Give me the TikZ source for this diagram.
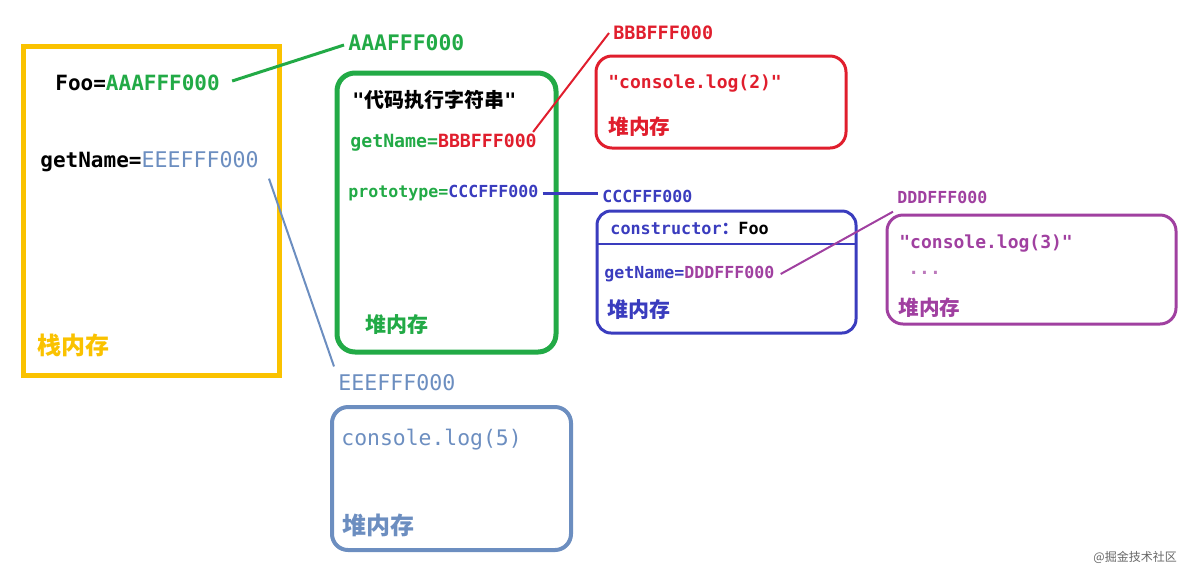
\documentclass[tikz,border=0pt]{standalone}
\usepackage{fontspec}
\setmonofont{DejaVu Sans Mono}
\newfontfamily\cjk{Noto Sans CJK SC}
\definecolor{yel}{RGB}{250,194,0}
\definecolor{grn}{RGB}{34,170,70}
\definecolor{rd}{RGB}{224,30,45}
\definecolor{blu}{RGB}{58,60,190}
\definecolor{pur}{RGB}{160,64,160}
\definecolor{stl}{RGB}{108,142,192}
\newcommand{\fsz}[1]{\fontsize{#1}{#1}\selectfont}
\begin{document}
\begin{tikzpicture}[x=0.5pt,y=-0.5pt,
  t/.style={anchor=west,inner sep=2pt,font=\ttfamily\bfseries},
  cj/.style={anchor=west,inner sep=2pt,font=\cjk\bfseries},
  link/.style={line width=1pt}]
\useasboundingbox (0,0) rectangle (1194,575);

% boxes
\draw[yel,line width=2.5pt] (23,46) rectangle (279,375);
\draw[grn,line width=2.5pt,rounded corners=9pt] (337,73) rectangle (556,352);
\draw[rd,line width=1.5pt,rounded corners=8pt] (596,56) rectangle (846,148);
\draw[blu,line width=1.5pt,rounded corners=7pt] (597,211) rectangle (856,333);
\draw[blu,line width=1.2pt] (597,244) -- (856,244);
\draw[pur,line width=1.5pt,rounded corners=8pt] (887,215) rectangle (1176,324);
\draw[stl,line width=2pt,rounded corners=8pt] (332,407) rectangle (571,550);

% stack
\node[t,font=\ttfamily\bfseries\fsz{10.5pt}] (foo) at (51,83) {Foo=\textcolor{grn}{AAAFFF000}};
\node[t,font=\ttfamily\bfseries\fsz{10.5pt}] (gn) at (36,162) {getName=\textcolor{stl}{\mdseries\fsz{10.8pt}EEEFFF000}};
\node[cj,text=yel,font=\cjk\bfseries\fsz{12pt}] (stk) at (33,345) {栈内存};

% green heap
\node[t,font=\ttfamily\bfseries\fsz{10.7pt},text=grn] (aaa) at (344,43) {AAAFFF000};
\node[anchor=west,inner sep=2pt,font=\bfseries\fsz{10pt}] (code) at (348,100) {\ttfamily"\cjk 代码执行字符串\ttfamily"};
\node[t,font=\ttfamily\bfseries\fsz{9.1pt},text=grn] (gnb) at (346,143) {getName=\textcolor{rd}{BBBFFF000}};
\node[t,font=\ttfamily\bfseries\fsz{8.3pt},text=grn] (pro) at (344,193) {prototype=\textcolor{blu}{CCCFFF000}};
\node[cj,text=grn,font=\cjk\bfseries\fsz{10.5pt}] (gheap) at (361,325) {堆内存};

% red heap
\node[t,font=\ttfamily\bfseries\fsz{9.2pt},text=rd] (bbb) at (609,33) {BBBFFF000};
\node[t,font=\ttfamily\bfseries\fsz{9pt},text=rd] (c2) at (604,84) {"console.log(2)"};
\node[cj,text=rd,font=\cjk\bfseries\fsz{10.3pt}] (rheap) at (604,127) {堆内存};

% blue heap
\node[t,font=\ttfamily\bfseries\fsz{8.3pt},text=blu] (ccc) at (598,196) {CCCFFF000};
\node[t,font=\ttfamily\bfseries\fsz{8.4pt},text=blu] (ctor) at (606,228) {constructor{\cjk ：}\textcolor{black}{Foo}};
\node[t,font=\ttfamily\bfseries\fsz{8.3pt},text=blu] (gnd) at (600,274) {getName=\textcolor{pur}{DDDFFF000}};
\node[cj,text=blu,font=\cjk\bfseries\fsz{10.5pt}] (bheap) at (603,310) {堆内存};

% purple heap
\node[t,font=\ttfamily\bfseries\fsz{8.3pt},text=pur] (ddd) at (893,197) {DDDFFF000};
\node[t,font=\ttfamily\bfseries\fsz{9pt},text=pur] (c3) at (895,244) {"console.log(3)"};
\node[t,font=\ttfamily\bfseries\fsz{9pt},text=pur!70] (dots) at (904,273) {...};
\node[cj,text=pur,font=\cjk\bfseries\fsz{10.3pt}] (pheap) at (894,308) {堆内存};

% steel heap
\node[t,font=\ttfamily\fsz{10.8pt},text=stl] (eee) at (334,383) {EEEFFF000};
\node[t,font=\ttfamily\fsz{10.7pt},text=stl] (c5) at (337,440) {console.log(5)};
\node[cj,text=stl,font=\cjk\bfseries\fsz{12pt}] (sheap) at (338,525) {堆内存};

% watermark
\node[anchor=west,inner sep=0pt,font=\cjk\fsz{6pt},text=black!60] (wm) at (1093,557) {@掘金技术社区};

% connectors
\draw[grn,line width=1.5pt] ([xshift=4pt,yshift=1pt]foo.east) -- ([yshift=-1pt]aaa.west);
\draw[rd,link] ([xshift=-4pt,yshift=-1pt]gnb.north east) -- (bbb.west);
\draw[blu,line width=1.5pt] (pro.east) -- (ccc.west |- pro.east);
\draw[pur,link] ([xshift=1pt]gnd.east) -- ([yshift=-2pt]ddd.south west);
\draw[stl,link] ([xshift=3pt,yshift=-1pt]gn.south east) -- ([yshift=2pt]eee.north west);
\end{tikzpicture}
\end{document}
